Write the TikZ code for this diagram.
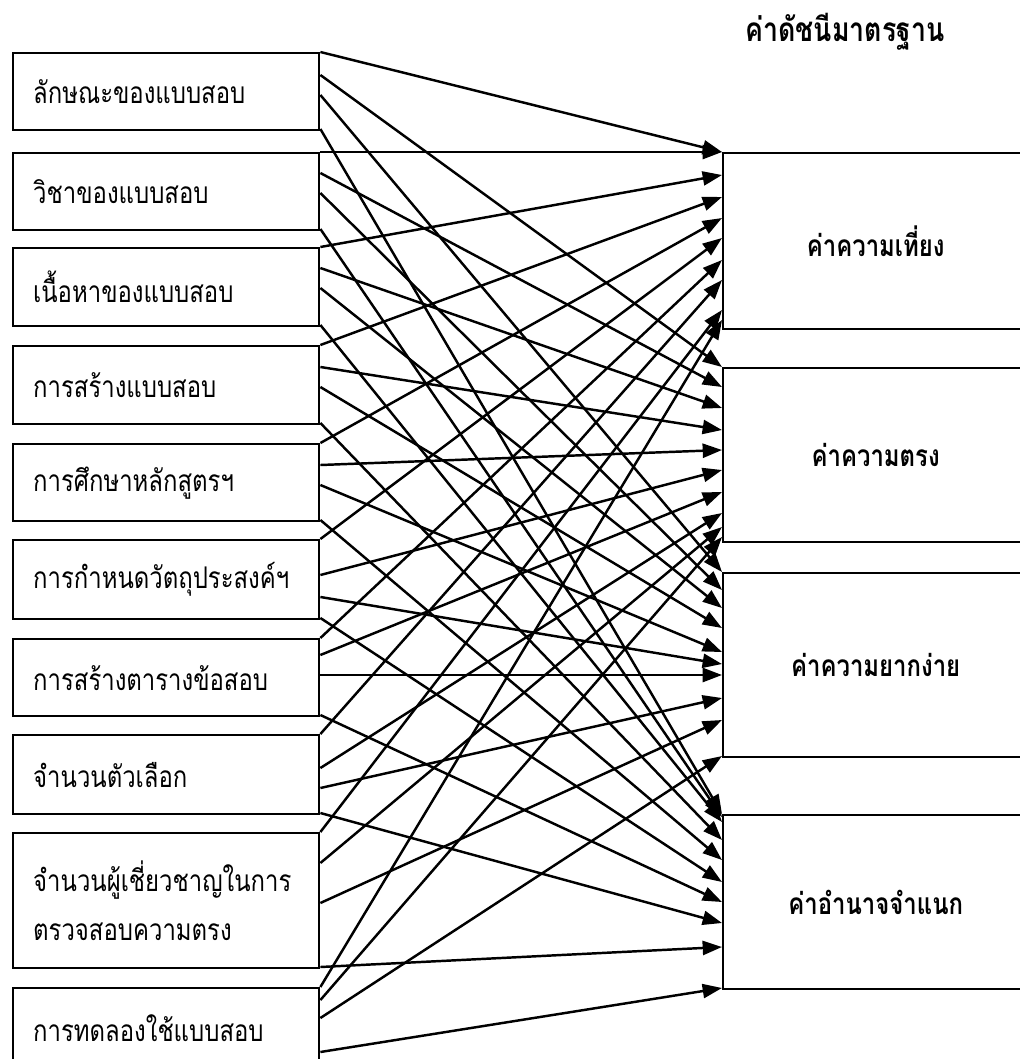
\documentclass[tikz,border=0pt]{standalone}
\usepackage{fontspec}
\newfontfamily\thaifont[Script=Thai,FakeStretch=0.8]{Loma}
\usetikzlibrary{arrows.meta,calc}

\begin{document}
\begin{tikzpicture}[
    x=0.02cm, y=-0.02cm,
    every node/.style={font=\thaifont\fontsize{17}{20}\selectfont},
    lbox/.style={draw, line width=1.4pt, anchor=north west, minimum width=6.12cm, text width=5.32cm, inner xsep=0.4cm, inner ysep=0pt, align=left},
    rbox/.style={draw, line width=1.4pt, anchor=north west, minimum width=6.1cm, inner sep=0pt, font=\thaifont\bfseries\fontsize{17}{20}\selectfont},
    arrow/.style={-{Triangle[length=11pt,width=8pt]}, line width=1.4pt}
]
    \useasboundingbox (0,0) rectangle (1019,1059);

    \node[font=\thaifont\bfseries\fontsize{19}{22}\selectfont] (title) at (845,32) {ค่าดัชนีมาตรฐาน};

    % left column: factors
    \node[lbox, minimum height=1.54cm] (l1) at (12,52) {ลักษณะของแบบสอบ};
    \node[lbox, minimum height=1.54cm] (l2) at (12,152) {วิชาของแบบสอบ};
    \node[lbox, minimum height=1.56cm] (l3) at (12,247) {เนื้อหาของแบบสอบ};
    \node[lbox, minimum height=1.56cm] (l4) at (12,345) {การสร้างแบบสอบ};
    \node[lbox, minimum height=1.54cm] (l5) at (12,443) {การศึกษาหลักสูตรฯ};
    \node[lbox, minimum height=1.58cm] (l6) at (12,539) {การกำหนดวัตถุประสงค์ฯ};
    \node[lbox, minimum height=1.54cm] (l7) at (12,638) {การสร้างตารางข้อสอบ};
    \node[lbox, minimum height=1.58cm] (l8) at (12,734) {จำนวนตัวเลือก};
    \node[lbox, minimum height=2.7cm] (l9) at (12,832) {จำนวนผู้เชี่ยวชาญในการ\\[8pt]ตรวจสอบความตรง};
    \node[lbox, minimum height=1.6cm] (l10) at (12,987) {การทดลองใช้แบบสอบ};

    % right column: indices
    \node[rbox, minimum height=3.52cm] (r1) at (722,152) {ค่าความเที่ยง};
    \node[rbox, minimum height=3.48cm] (r2) at (722,367) {ค่าความตรง};
    \node[rbox, minimum height=3.68cm] (r3) at (722,572) {ค่าความยากง่าย};
    \node[rbox, minimum height=3.48cm] (r4) at (722,814) {ค่าอำนาจจำแนก};

    % every factor feeds every index
    \foreach \i/\sa/\sb/\sc/\sd/\ta/\tb/\tc/\td in {
        1/0/23/43/77/0/0/0/0,
        2/0/21/41/77/0/20/18/3,
        3/0/21/41/78/23/41/36/8,
        4/0/22/42/78/45/63/56/26,
        5/0/22/42/77/66/83/80/46,
        6/0/36/58/79/86/103/92/68,
        7/0/17/37/77/108/125/103/88,
        8/0/34/54/79/128/146/126/109,
        9/0/31/71/135/158/160/148/133,
        10/0/13/31/65/168/170/184/174}
    {
        \draw[arrow] ($(l\i.north east)+(0,\sa)$) -- ($(r1.north west)+(0,\ta)$);
        \draw[arrow] ($(l\i.north east)+(0,\sb)$) -- ($(r2.north west)+(0,\tb)$);
        \draw[arrow] ($(l\i.north east)+(0,\sc)$) -- ($(r3.north west)+(0,\tc)$);
        \draw[arrow] ($(l\i.north east)+(0,\sd)$) -- ($(r4.north west)+(0,\td)$);
    }
\end{tikzpicture}
\end{document}
